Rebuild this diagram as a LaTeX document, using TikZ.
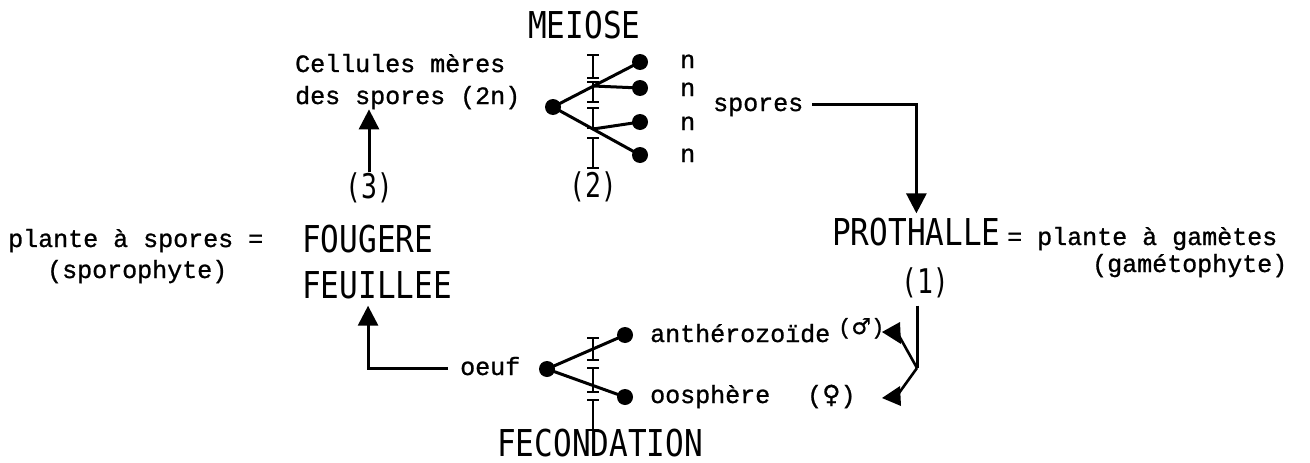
\documentclass[tikz,border=0pt]{standalone}
\usepackage{fontspec}
\usepackage{graphicx}
\usetikzlibrary{arrows.meta}
\setmonofont[FakeBold=1]{Liberation Mono}
\newfontfamily\bigfnt{DejaVu Sans Mono}
\newfontfamily\symfnt[FakeBold=0.6]{DejaVu Sans}
\newcommand\capw[1]{\scalebox{0.84}[1]{\bigfnt\fontsize{37}{40}\selectfont #1}}
\newcommand\numw[1]{\scalebox{0.78}[1]{\bigfnt\fontsize{34}{38}\selectfont #1}}
\newcommand\ibar[3]{\draw[ibst] (#1-6,#2) -- (#1+6,#2) (#1,#2) -- (#1,#3) (#1-6,#3) -- (#1+6,#3);}
\tikzset{
  txt/.style={font=\ttfamily\fontsize{25}{30}\selectfont, inner sep=0pt, anchor=base west},
  capn/.style={inner sep=0pt, anchor=base west},
  numn/.style={inner sep=0pt, anchor=base},
  arr/.style={line width=3pt, -{Triangle[width=20pt,length=20pt]}},
  ln/.style={line width=3pt},
  headfill/.style={fill=black},
  dotn/.style={circle, fill=black, inner sep=0pt, minimum size=16pt},
  ibst/.style={line width=2.6pt},
}
\begin{document}
\begin{tikzpicture}[x=1pt,y=-1pt]
\useasboundingbox (0,0) rectangle (1310,463);
% --- meiose
\node[capn] (meiose) at (528,38) {\capw{MEIOSE}};
\node[txt] (cell1) at (295,72) {Cellules mères};
\node[txt] (cell2) at (295,104) {des spores (2n)};
\node[dotn] (mdot) at (553,107) {};
\node[dotn] (md1) at (640,62) {};
\node[dotn] (md2) at (640,88) {};
\node[dotn] (md3) at (640,122) {};
\node[dotn] (md4) at (640,155) {};
\coordinate (mb1) at (593,86);
\coordinate (mb2) at (593,129);
\draw[ln] (mdot.center) -- (md1.center);
\draw[ln] (mdot.center) -- (md4.center);
\draw[ln] (mb1) -- (md2.center);
\draw[ln] (mb2) -- (md3.center);
\ibar{593}{55}{78}
\ibar{593}{82}{102}
\ibar{593}{108}{128}
\ibar{593}{138}{168}
\node[txt] (nn1) at (680,68) {n};
\node[txt] (nn2) at (680,96) {n};
\node[txt] (nn3) at (680,130) {n};
\node[txt] (nn4) at (680,162) {n};
\node[txt] (spores) at (713,111) {spores};
\node[numn] (n2) at (593,197) {\numw{(2)}};
\node[numn] (n3) at (369,198) {\numw{(3)}};
% --- left
\node[txt] (pspores) at (8,247) {plante à spores =};
\node[txt] (sporo) at (47,278) {(sporophyte)};
\node[capn] (foug) at (302,252) {\capw{FOUGERE}};
\node[capn] (feuil) at (302,298) {\capw{FEUILLEE}};
% --- right
\node[capn] (proth) at (832,245) {\capw{PROTHALLE}};
\node[txt] (pgam) at (1007,245) {= plante à gamètes};
\node[txt] (gameto) at (1092,272) {(gamétophyte)};
\node[numn] (n1) at (925,293) {\numw{(1)}};
% --- fecondation
\node[txt] (oeuf) at (460,375) {oeuf};
\node[dotn] (odot) at (547,369) {};
\node[dotn] (fd1) at (625,335) {};
\node[dotn] (fd2) at (625,397) {};
\draw[ln] (odot.center) -- (fd1.center);
\draw[ln] (odot.center) -- (fd2.center);
\ibar{593}{338}{360}
\ibar{593}{368}{392}
\ibar{593}{400}{430}
\node[txt] (anth) at (650,342) {anthérozoïde};
\node[txt, font=\ttfamily\fontsize{22}{26}\selectfont] (male) at (838,334) {({\symfnt ♂})};
\node[txt] (oosp) at (650,403) {oosphère};
\node[txt] (female) at (807,403) {({\symfnt ♀})};
\node[capn] (fecond) at (497,456) {\capw{FECONDATION}};
% --- connectors
\draw[arr] (n3.north) -- (n3.north |- cell2.south);
\draw[arr] ([xshift=9pt,yshift=2pt]spores.east) -| ([yshift=4pt]proth.north);
\draw[arr] ([xshift=-12pt,yshift=-2pt]oeuf.west) -| ([xshift=-9pt,yshift=-7pt]feuil.south);
\coordinate (pc) at (917,368);
\coordinate (mk) at (898,334);
\coordinate (mtip) at (882,332);
\coordinate (fk) at (899,393);
\coordinate (ftip) at (882,398);
\draw[ln] ([xshift=-8pt,yshift=-8pt]n1.south) -- (pc);
\draw[line width=2.6pt] (pc) -- (mk);
\draw[line width=2.6pt] (pc) -- (fk);
\fill[headfill] (mtip) -- (900,322) -- (901,344) -- cycle;
\fill[headfill] (ftip) -- (900,386) -- (901,406) -- cycle;
\end{tikzpicture}
\end{document}
